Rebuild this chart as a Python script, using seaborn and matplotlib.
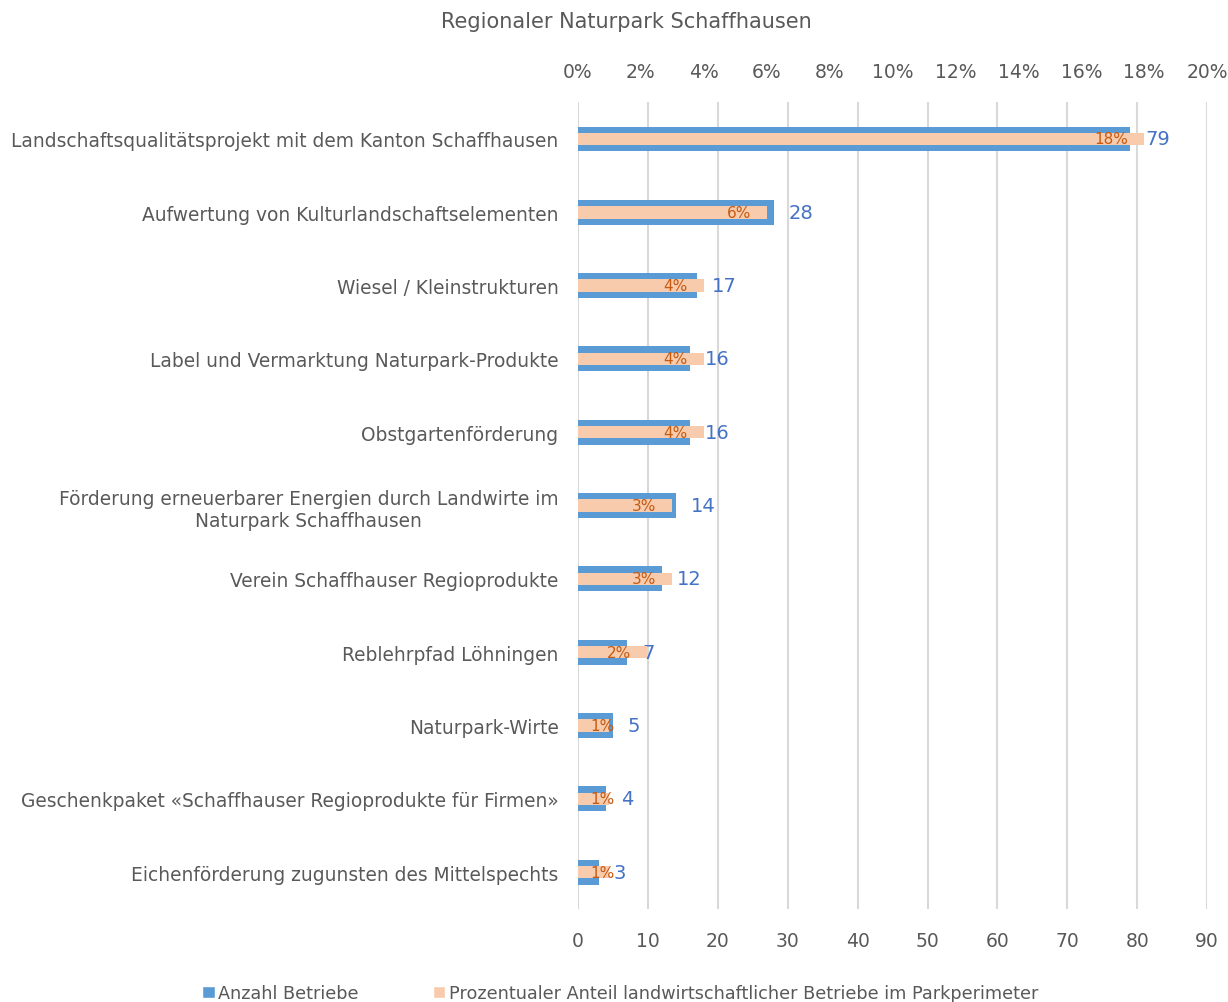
import matplotlib
matplotlib.use("Agg")
import matplotlib.pyplot as plt
import seaborn as sns
import pandas as pd
from matplotlib.patches import Patch
from matplotlib.ticker import PercentFormatter, MultipleLocator

sns.set_style("white")
plt.rcParams['font.family'] = ['DejaVu Sans']

# data
categories = [
    "Landschaftsqualitätsprojekt mit dem Kanton Schaffhausen",
    "Aufwertung von Kulturlandschaftselementen",
    "Wiesel / Kleinstrukturen",
    "Label und Vermarktung Naturpark-Produkte",
    "Obstgartenförderung",
    "Förderung erneuerbarer Energien durch Landwirte im\nNaturpark Schaffhausen",
    "Verein Schaffhauser Regioprodukte",
    "Reblehrpfad Löhningen",
    "Naturpark-Wirte",
    "Geschenkpaket «Schaffhauser Regioprodukte für Firmen»",
    "Eichenförderung zugunsten des Mittelspechts",
]
anzahl = [79, 28, 17, 16, 16, 14, 12, 7, 5, 4, 3]
anteil = [18.0, 6.0, 4.0, 4.0, 4.0, 3.0, 3.0, 2.2, 1.0, 1.0, 1.0]  # percent

count_label = "Anzahl Betriebe"
pct_label = "Prozentualer Anteil landwirtschaftlicher Betriebe im Parkperimeter"
title = "Regionaler Naturpark Schaffhausen"

blue = "#5B9BD5"
peach = "#F8CBAD"
grey = "#595959"

df = pd.DataFrame({"Kategorie": categories, "Anzahl": anzahl, "Anteil": anteil})

fig = plt.figure(figsize=(12.28, 10.03), dpi=100)
ax = fig.add_axes([0.4707, 0.093, 0.5123, 0.804])

sns.barplot(data=df, x="Anzahl", y="Kategorie", orient="h", color=blue,
            width=0.34, saturation=1, linewidth=0, ax=ax, zorder=2)
ax.set_xlim(0, 90)
ax.xaxis.set_major_locator(MultipleLocator(10))
ax.grid(axis="x", color="#D9D9D9", linewidth=1.5, zorder=0)
ax.set_axisbelow(True)

ax2 = ax.twiny()
sns.barplot(data=df, x="Anteil", y="Kategorie", orient="h", color=peach,
            width=0.17, saturation=1, linewidth=0, ax=ax2, zorder=3)
ax2.set_xlim(0, 20)
ax2.xaxis.set_major_locator(MultipleLocator(2))
ax2.xaxis.set_major_formatter(PercentFormatter(decimals=0))
ax2.grid(False)
ax.set_ylim(len(categories) - 0.5, -0.5)

for a in (ax, ax2):
    for s in a.spines.values():
        s.set_visible(False)
    a.set_xlabel("")
    a.set_ylabel("")

ax.tick_params(axis="x", length=0, pad=16, labelsize=13.5, labelcolor=grey)
ax.tick_params(axis="y", length=0, pad=14, labelsize=13.4, labelcolor=grey)
ax2.tick_params(axis="x", length=0, pad=15, labelsize=13.5, labelcolor=grey)
ax2.tick_params(axis="y", left=False, labelleft=False)
for t in ax.get_yticklabels():
    t.set_multialignment("center")

# value labels
px_per_pct = ax2.bbox.width / 20
for i, (c, p) in enumerate(zip(anzahl, anteil)):
    ax.annotate(str(c), (c, i), xytext=(15, 0), textcoords="offset pixels",
                ha="left", va="center", fontsize=14, color="#4472C4", zorder=5)
    # inside end, but never pushed past the start of the bar
    off = max(p * px_per_pct - 16, 37)
    ax2.annotate(f"{p:.0f}%", (0, i), xytext=(off, 0), textcoords="offset pixels",
                 ha="right", va="center", fontsize=11, color="#C55A11", zorder=5)

fig.text(0.51, 0.978, title, ha="center", va="center", fontsize=15, color=grey)

handles = [Patch(facecolor=blue, label=count_label),
           Patch(facecolor=peach, label=pct_label)]
fig.legend(handles=handles, loc="lower center", bbox_to_anchor=(0.505, -0.016),
           ncol=2, frameon=False, fontsize=12.7, labelcolor=grey,
           handlelength=0.7, handleheight=0.7, handletextpad=0.2,
           columnspacing=4.2)

fig.savefig("out.png", dpi=100)
